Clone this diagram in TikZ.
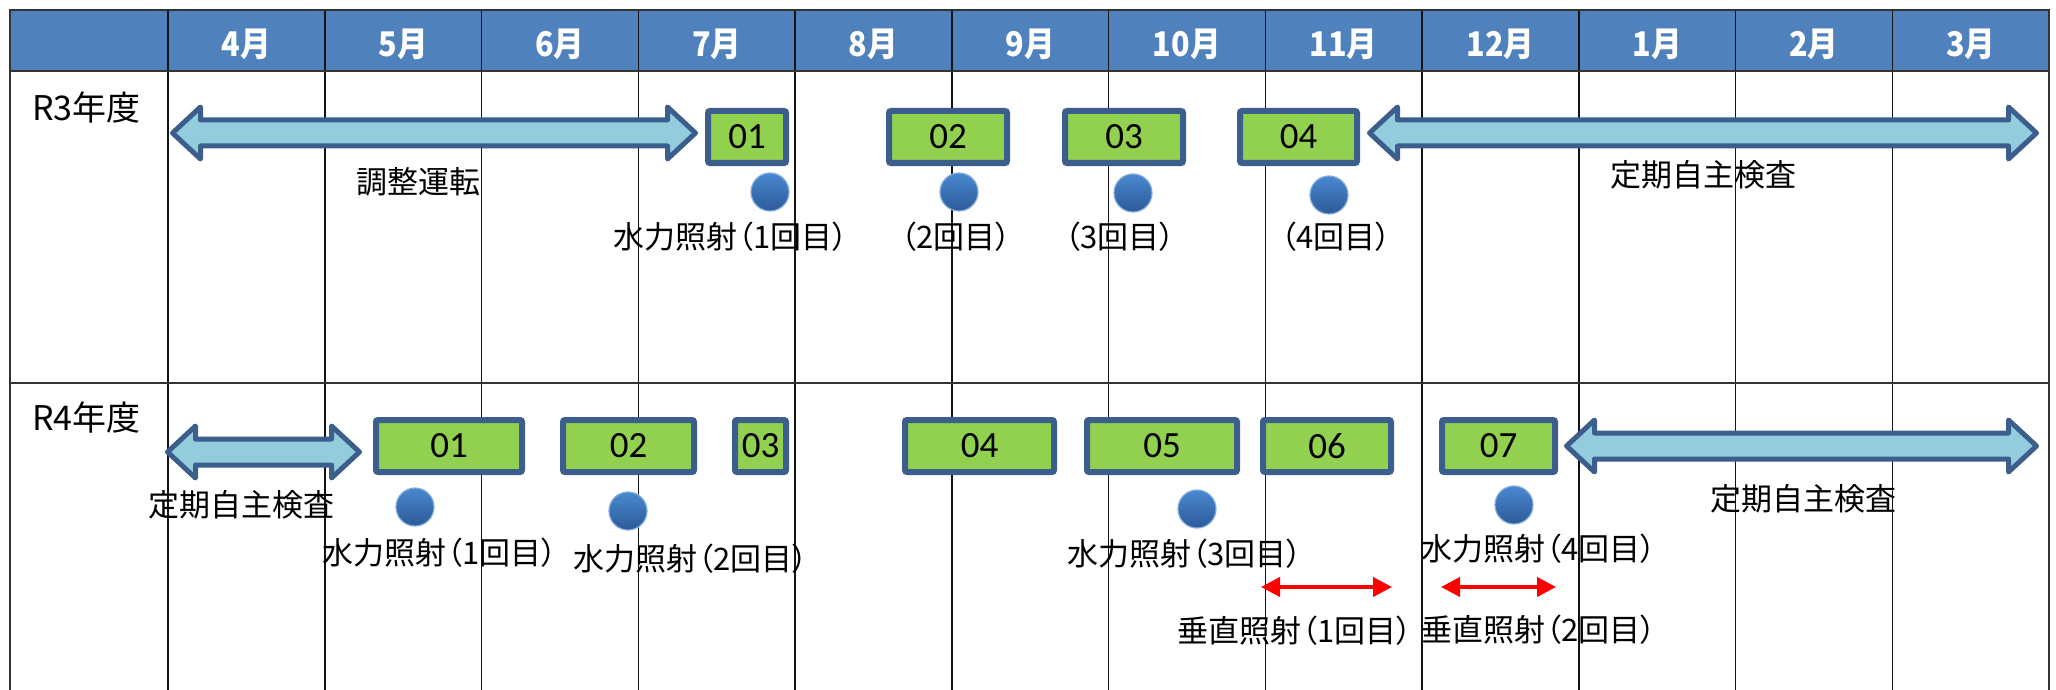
\documentclass[tikz,border=0pt]{standalone}
\usepackage{fontspec}
\setmainfont{Noto Sans CJK JP}[RawFeature=+palt]
\newfontfamily\hdrfont{Noto Sans CJK JP}[FakeStretch=0.9]
\newfontfamily\numfont{Carlito}
\usetikzlibrary{arrows.meta}
\definecolor{hdrblue}{HTML}{4F81BD}
\definecolor{boxgreen}{HTML}{92D050}
\definecolor{darkblue}{HTML}{3B5E8C}
\definecolor{lightblue}{HTML}{93CDDD}
\definecolor{dotlight}{HTML}{4A88D0}
\definecolor{dotdark}{HTML}{2C5A98}
\newcommand\dblarrow[3]{%
  \draw[blockarrow] (#1,#3) -- (#1+28,#3-26) -- (#1+28,#3-13) -- (#2-28,#3-13)
    -- (#2-28,#3-26) -- (#2,#3) -- (#2-28,#3+26) -- (#2-28,#3+13)
    -- (#1+28,#3+13) -- (#1+28,#3+26) -- cycle;}
\begin{document}
\begin{tikzpicture}[x=0.5pt,y=-0.5pt,
  gridline/.style={line width=0.75pt, draw=black!92},
  border/.style={line width=1.1pt, draw=black!80},
  month/.style={text=white, font=\hdrfont\bfseries\fontsize{17}{19}\selectfont, inner sep=0},
  lbl/.style={font=\fontsize{15.5}{17}\selectfont, inner sep=0},
  year/.style={font=\fontsize{17}{19}\selectfont, anchor=west, inner sep=0},
  gbox/.style={draw=darkblue, fill=boxgreen, line width=3pt, rounded corners=1pt,
    minimum height=26pt, inner sep=0, font=\numfont\fontsize{18.5}{20}\selectfont},
  dot/.style={circle, minimum size=19pt, inner sep=0, top color=dotlight,
    bottom color=dotdark, draw=dotlight!70!white, line width=0.6pt},
  blockarrow/.style={draw=darkblue, fill=lightblue, line width=2.5pt, line join=round},
  redarrow/.style={draw=red, line width=2pt,
    {Triangle[length=9.5pt,width=9.5pt]}-{Triangle[length=9.5pt,width=9.5pt]}}
]
\useasboundingbox (0,0) rectangle (2056,690);
% header
\fill[hdrblue] (10,10) rectangle (2049,71);
\draw[gridline] (168,10) -- (168,690);
\foreach \i in {1,...,11} \draw[gridline] ({168+\i*156.75},10) -- ({168+\i*156.75},690);
\draw[border] (10,690) -- (10,10) -- (2049,10) -- (2049,690);
\draw[border] (10,71) -- (2049,71);
\draw[border] (10,383) -- (2049,383);
\foreach \m [count=\i from 0] in {4,5,6,7,8,9,10,11,12,1,2,3}
  \node[month] (m\i) at ({168+(\i+0.5)*156.75},44) {\m 月};

% year labels
\node[year] (r3) at (32,108) {R3年度};
\node[year] (r4) at (32,418) {R4年度};

% ---------- R3 ----------
\dblarrow{172.5}{695.5}{133}
\dblarrow{1369.5}{2036.5}{133}
\node[lbl] (a3l) at (418,182) {調整運転};
\node[lbl] (a3r) at (1703,175) {定期自主検査};

\node[gbox, minimum width=39pt] (b301) at (747,137) {01};
\node[gbox, minimum width=59pt] (b302) at (948,137) {02};
\node[gbox, minimum width=59pt] (b303) at (1124,137) {03};
\node[gbox, minimum width=58.5pt] (b304) at (1298.5,137) {04};

\node[dot] (d31) at (770,192) {};
\node[dot] (d32) at (959,192) {};
\node[dot] (d33) at (1133,193) {};
\node[dot] (d34) at (1329,195) {};

\node[lbl] (w31) at (731,237) {水力照射（1回目）};
\node[lbl] (w32) at (956,237) {（2回目）};
\node[lbl] (w33) at (1120,237) {（3回目）};
\node[lbl] (w34) at (1336,237) {（4回目）};

% ---------- R4 ----------
\dblarrow{167.5}{359.5}{452}
\dblarrow{1566.5}{2036.5}{446}
\node[lbl] (a4l) at (241,505) {定期自主検査};
\node[lbl] (a4r) at (1803,499) {定期自主検査};

\node[gbox, minimum width=73pt] (b401) at (449,446) {01};
\node[gbox, minimum width=65.5pt] (b402) at (628.5,446) {02};
\node[gbox, minimum width=25.5pt] (b403) at (760.5,446) {\raisebox{-3pt}{03}};
\node[gbox, minimum width=74.5pt] (b404) at (979.5,446) {04};
\node[gbox, minimum width=75pt] (b405) at (1162,446) {05};
\node[gbox, minimum width=64pt] (b406) at (1327,446) {06};
\node[gbox, minimum width=56.5pt] (b407) at (1498.5,446) {07};

\node[dot] (d41) at (415,507) {};
\node[dot] (d42) at (628,511) {};
\node[dot] (d43) at (1197,509) {};
\node[dot] (d44) at (1514,505) {};

\node[lbl] (w41) at (440,553) {水力照射（1回目）};
\node[lbl] (w42) at (691,559) {水力照射（2回目）};
\node[lbl] (w43) at (1185,554) {水力照射（3回目）};
\node[lbl] (w44) at (1539,549) {水力照射（4回目）};

\coordinate (v1s) at (1261,587);
\coordinate (v1e) at (1392,587);
\coordinate (v2s) at (1441,587);
\coordinate (v2e) at (1556,587);
\draw[redarrow] (v1s) -- (v1e);
\draw[redarrow] (v2s) -- (v2e);

\node[lbl] (s41) at (1295,631) {垂直照射（1回目）};
\node[lbl] (s42) at (1539,630) {垂直照射（2回目）};
\end{tikzpicture}
\end{document}
